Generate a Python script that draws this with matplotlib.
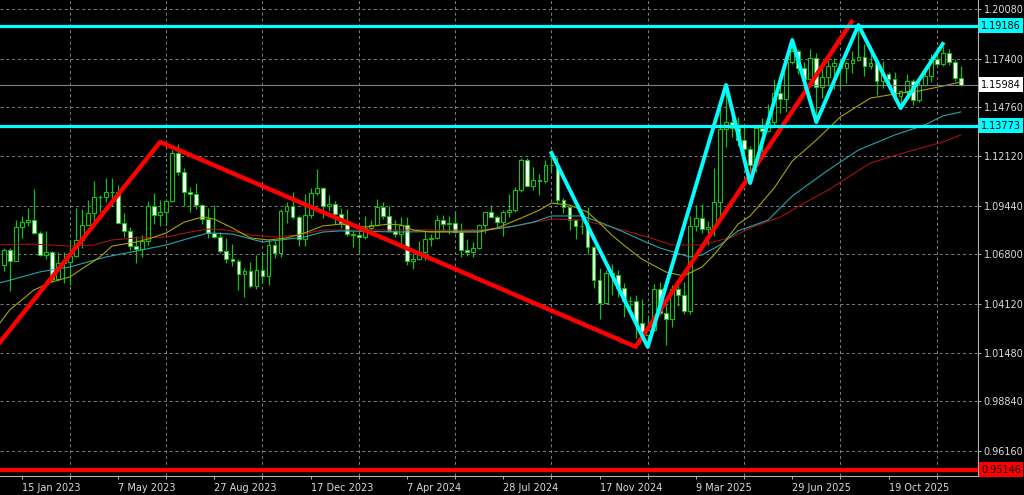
import numpy as np
import pandas as pd
import matplotlib
matplotlib.use("Agg")
import matplotlib.pyplot as plt
import matplotlib.dates as mdates

# Weekly candles, first bar = week starting 25 Dec 2022
FIRST_WEEK = "2022-12-25"

opens = [1.0622, 1.0705, 1.0645, 1.0830, 1.0856, 1.0868, 1.0796, 1.0679, 1.0694, 1.0547,
         1.0635, 1.0640, 1.0670, 1.0760, 1.0839, 1.0903, 1.0993, 1.0991, 1.1017, 1.1018,
         1.0850, 1.0805, 1.0723, 1.0708, 1.0750, 1.0940, 1.0893, 1.0910, 1.0968, 1.1228,
         1.1124, 1.1016, 1.1007, 1.0948, 1.0873, 1.0795, 1.0775, 1.0700, 1.0657, 1.0645,
         1.0573, 1.0588, 1.0511, 1.0594, 1.0564, 1.0729, 1.0685, 1.0915, 1.0940, 1.0885,
         1.0763, 1.0895, 1.1012, 1.1038, 1.0942, 1.0950, 1.0897, 1.0852, 1.0789, 1.0784,
         1.0776, 1.0821, 1.0838, 1.0939, 1.0890, 1.0808, 1.0790, 1.0838, 1.0642, 1.0655,
         1.0693, 1.0761, 1.0771, 1.0868, 1.0847, 1.0848, 1.0801, 1.0703, 1.0693, 1.0713,
         1.0839, 1.0907, 1.0883, 1.0855, 1.0911, 1.0919, 1.1027, 1.1191, 1.1048, 1.1085,
         1.1076, 1.1163, 1.1164, 1.0974, 1.0937, 1.0866, 1.0831, 1.0833, 1.0719, 1.0541,
         1.0418, 1.0577, 1.0567, 1.0500, 1.0429, 1.0427, 1.0307, 1.0244, 1.0271, 1.0494,
         1.0362, 1.0329, 1.0493, 1.0459, 1.0376, 1.0833, 1.0879, 1.0815, 1.0827, 1.0962,
         1.1357, 1.1394, 1.1366, 1.1299, 1.1250, 1.1163, 1.1364, 1.1347, 1.1397, 1.1551,
         1.1523, 1.1719, 1.1779, 1.1689, 1.1627, 1.1742, 1.1586, 1.1642, 1.1700, 1.1718,
         1.1686, 1.1718, 1.1733, 1.1746, 1.1702, 1.1716, 1.1620, 1.1654, 1.1627, 1.1535,
         1.1565, 1.1620, 1.1513, 1.1598, 1.1643, 1.1740, 1.1710, 1.1772, 1.1720, 1.1636]
highs = [1.0713, 1.0713, 1.0868, 1.0888, 1.0929, 1.1033, 1.0805, 1.0805, 1.0700, 1.0692,
         1.0695, 1.0760, 1.0930, 1.0925, 1.0973, 1.1075, 1.0999, 1.1095, 1.1092, 1.1055,
         1.0904, 1.0828, 1.0780, 1.0787, 1.0971, 1.1012, 1.0976, 1.0975, 1.1244, 1.1276,
         1.1149, 1.1046, 1.1065, 1.0955, 1.0930, 1.0945, 1.0800, 1.0770, 1.0737, 1.0656,
         1.0608, 1.0640, 1.0676, 1.0695, 1.0756, 1.0755, 1.0925, 1.0965, 1.1017, 1.0894,
         1.1009, 1.1040, 1.1140, 1.1046, 1.0999, 1.0967, 1.0932, 1.0926, 1.0805, 1.0806,
         1.0888, 1.0865, 1.0981, 1.0964, 1.0942, 1.0865, 1.0885, 1.0885, 1.0690, 1.0752,
         1.0811, 1.0791, 1.0895, 1.0895, 1.0889, 1.0916, 1.0852, 1.0761, 1.0748, 1.0845,
         1.0912, 1.0948, 1.0895, 1.0922, 1.1008, 1.1047, 1.1202, 1.1201, 1.1155, 1.1113,
         1.1189, 1.1214, 1.1209, 1.0985, 1.0945, 1.0870, 1.0905, 1.0937, 1.0727, 1.0609,
         1.0597, 1.0630, 1.0595, 1.0527, 1.0457, 1.0458, 1.0437, 1.0353, 1.0522, 1.0533,
         1.0443, 1.0513, 1.0528, 1.0528, 1.0889, 1.0947, 1.0955, 1.0858, 1.1146, 1.1474,
         1.1573, 1.1480, 1.1425, 1.1380, 1.1266, 1.1375, 1.1420, 1.1495, 1.1631, 1.1614,
         1.1753, 1.1830, 1.1790, 1.1720, 1.1789, 1.1770, 1.1699, 1.1730, 1.1742, 1.1743,
         1.1726, 1.1780, 1.1918, 1.1819, 1.1779, 1.1729, 1.1728, 1.1669, 1.1668, 1.1570,
         1.1656, 1.1627, 1.1612, 1.1682, 1.1763, 1.1804, 1.1808, 1.1790, 1.1740, 1.1700]
lows = [1.0590, 1.0483, 1.0643, 1.0766, 1.0835, 1.0790, 1.0669, 1.0655, 1.0533, 1.0534,
        1.0524, 1.0516, 1.0664, 1.0713, 1.0837, 1.0831, 1.0910, 1.0964, 1.0942, 1.0848,
        1.0774, 1.0702, 1.0635, 1.0667, 1.0731, 1.0844, 1.0835, 1.0834, 1.0962, 1.1110,
        1.0943, 1.0912, 1.0925, 1.0845, 1.0766, 1.0771, 1.0686, 1.0631, 1.0615, 1.0488,
        1.0448, 1.0496, 1.0495, 1.0524, 1.0516, 1.0659, 1.0668, 1.0852, 1.0870, 1.0723,
        1.0723, 1.0875, 1.1000, 1.0877, 1.0914, 1.0845, 1.0821, 1.0778, 1.0722, 1.0695,
        1.0762, 1.0796, 1.0835, 1.0873, 1.0801, 1.0776, 1.0725, 1.0622, 1.0601, 1.0650,
        1.0650, 1.0724, 1.0764, 1.0804, 1.0788, 1.0795, 1.0668, 1.0671, 1.0666, 1.0710,
        1.0796, 1.0878, 1.0825, 1.0777, 1.0881, 1.0912, 1.1020, 1.1042, 1.1026, 1.1001,
        1.1068, 1.1118, 1.0950, 1.0902, 1.0811, 1.0761, 1.0790, 1.0682, 1.0497, 1.0333,
        1.0412, 1.0460, 1.0451, 1.0343, 1.0385, 1.0226, 1.0214, 1.0178, 1.0266, 1.0353,
        1.0190, 1.0285, 1.0401, 1.0359, 1.0360, 1.0806, 1.0797, 1.0733, 1.0777, 1.0881,
        1.1263, 1.1315, 1.1265, 1.1194, 1.1065, 1.1128, 1.1210, 1.1345, 1.1373, 1.1445,
        1.1452, 1.1712, 1.1654, 1.1556, 1.1620, 1.1391, 1.1528, 1.1589, 1.1573, 1.1574,
        1.1609, 1.1660, 1.1724, 1.1646, 1.1684, 1.1542, 1.1578, 1.1575, 1.1525, 1.1468,
        1.1540, 1.1491, 1.1502, 1.1590, 1.1615, 1.1700, 1.1700, 1.1705, 1.1620, 1.1590]
closes = opens[1:] + [1.15984]

# moving averages: bar offset from first week, price
ma_fast_bar = [-1, 0, 1, 5, 8, 11, 14, 16, 18, 22, 24, 27, 30, 33, 35, 38, 41, 44, 47, 50,
               53, 56, 60, 64, 66, 68, 71, 75, 79, 82, 86, 89, 91, 94, 97, 99, 101, 103,
               106, 110, 113, 116, 118, 120, 122, 124, 128, 131, 135, 139, 144, 149, 152,
               156, 159]
ma_fast = [1.0293, 1.0336, 1.0379, 1.0487, 1.0531, 1.0558, 1.0623, 1.0666, 1.0725, 1.0747,
           1.0763, 1.0796, 1.0855, 1.0882, 1.0871, 1.0823, 1.0769, 1.0758, 1.0769, 1.0796,
           1.0834, 1.0844, 1.0828, 1.0844, 1.0839, 1.0812, 1.0801, 1.0801, 1.0801, 1.0823,
           1.0877, 1.0920, 1.0958, 1.0947, 1.0909, 1.0850, 1.0785, 1.0731, 1.0655, 1.0585,
           1.0563, 1.0612, 1.0677, 1.0758, 1.0844, 1.0888, 1.1039, 1.1185, 1.1299, 1.1424,
           1.1526, 1.1553, 1.1564, 1.1591, 1.1613]
ma_mid_bar = [-1, 0, 3, 6, 11, 14, 17, 22, 27, 31, 34, 38, 43, 46, 50, 53, 56, 66, 79, 84,
              88, 91, 96, 99, 103, 107, 109, 114, 116, 119, 122, 127, 131, 137, 142, 148,
              153, 156, 159]
ma_mid = [1.0525, 1.0531, 1.0558, 1.0585, 1.0612, 1.0639, 1.0666, 1.0698, 1.0731, 1.0769,
          1.0796, 1.0790, 1.0747, 1.0758, 1.0774, 1.0801, 1.0807, 1.0801, 1.0807, 1.0828,
          1.0855, 1.0888, 1.0888, 1.0855, 1.0801, 1.0742, 1.0715, 1.0666, 1.0677, 1.0731,
          1.0807, 1.0866, 1.0996, 1.1137, 1.1245, 1.1326, 1.1380, 1.1429, 1.1451]
ma_slow_bar = [-1, 5, 11, 15, 18, 22, 27, 31, 34, 37, 41, 45, 49, 53, 69, 79, 85, 91, 96,
               101, 107, 111, 116, 121, 124, 129, 133, 137, 144, 150, 156, 159]
ma_slow = [1.0731, 1.0736, 1.0725, 1.0731, 1.0758, 1.0769, 1.0774, 1.0801, 1.0817, 1.0812,
           1.0785, 1.0774, 1.0785, 1.0812, 1.0812, 1.0812, 1.0834, 1.0871, 1.0866, 1.0828,
           1.0774, 1.0731, 1.0731, 1.0774, 1.0823, 1.0882, 1.0958, 1.1029, 1.1175, 1.1234,
           1.1288, 1.1326]

# zigzag / trend lines
zz_red_dates = ["2022-12-18", "2023-06-25", "2024-12-29", "2025-09-06"]
zz_red_price = [1.0189, 1.1288, 1.0180, 1.1938]
zz_cyan_dates = ["2024-09-22", "2025-01-12", "2025-04-13", "2025-05-11", "2025-06-29",
                 "2025-07-27", "2025-09-14", "2025-11-02", "2025-12-21"]
zz_cyan_price = [1.1229, 1.0179, 1.1597, 1.1066, 1.1840, 1.1396, 1.1921, 1.1472, 1.1819]

levels_cyan = [1.19186, 1.13773]
level_red = 0.95146
last_price = 1.15984

price_ticks = [0.96160, 0.98840, 1.01480, 1.04120, 1.06800, 1.09440, 1.12120, 1.14760,
               1.17400, 1.20080]
date_ticks = ["2023-01-15", "2023-05-07", "2023-08-27", "2023-12-17", "2024-04-07",
              "2024-07-28", "2024-11-17", "2025-03-09", "2025-06-29", "2025-10-19"]

GREEN = "#14c014"
GRID = "#7c8088"
TXT = "#dcdcdc"
FS = 7

plt.rcParams["font.family"] = ["DejaVu Sans"]

o = np.array(opens); h = np.array(highs); l = np.array(lows); c = np.array(closes)
t0 = mdates.date2num(pd.Timestamp(FIRST_WEEK))
x = t0 + 7.0 * np.arange(len(o))

fig = plt.figure(figsize=(10.24, 4.95), dpi=100, facecolor="black")
ax = fig.add_axes([0, 19 / 495, 978 / 1024, 476 / 495], facecolor="black")

# candles
ax.vlines(x, l, h, color=GREEN, lw=0.9, zorder=2)
up = c >= o
ax.bar(x, np.abs(c - o), bottom=np.minimum(o, c), width=4.4,
       color=np.where(up, "black", "white"), edgecolor=GREEN, linewidth=0.8, zorder=3)

# moving averages
ax.plot(t0 + 7.0 * np.array(ma_slow_bar), ma_slow, color="#a81010", lw=0.8, zorder=4)
ax.plot(t0 + 7.0 * np.array(ma_mid_bar), ma_mid, color="#22a6ae", lw=0.8, zorder=4)
ax.plot(t0 + 7.0 * np.array(ma_fast_bar), ma_fast, color="#a8a400", lw=0.8, zorder=4)

# zigzags
ax.plot(mdates.date2num(pd.to_datetime(zz_red_dates)), zz_red_price,
        color="#ff0000", lw=3.2, zorder=5)
ax.plot(mdates.date2num(pd.to_datetime(zz_cyan_dates)), zz_cyan_price,
        color="#00ffff", lw=2.8, zorder=6)

# horizontal levels
ax.axhline(last_price, color="#808080", lw=0.8, zorder=4)
for lv in levels_cyan:
    ax.axhline(lv, color="#00ffff", lw=2.3, zorder=6)
ax.axhline(level_red, color="#ff0000", lw=3.0, zorder=6)

ax.set_xlim(t0 - 4.23, t0 + 1133.0)
ax.set_ylim(0.94807, 1.20567)

# axes styling
for s in ["left", "top"]:
    ax.spines[s].set_visible(False)
for s in ["right", "bottom"]:
    ax.spines[s].set_color("#b0b0b0")
    ax.spines[s].set_linewidth(0.8)

ax.yaxis.tick_right()
ax.set_yticks(price_ticks)
ax.set_yticklabels([f"{v:.5f}" for v in price_ticks])
ax.tick_params(axis="y", which="major", direction="out", length=2.5, width=0.7,
               color="#b0b0b0", labelcolor=TXT, labelsize=FS, pad=1.5)

grid_dates = pd.date_range(date_ticks[0], periods=20, freq="56D")
lbl_dates = pd.to_datetime(date_ticks)
ax.set_xticks(mdates.date2num(lbl_dates))
ax.set_xticklabels([f"{d.day} {d:%b %Y}" for d in lbl_dates])
ax.set_xticks(mdates.date2num(grid_dates), minor=True)
ax.tick_params(axis="x", which="both", direction="out", length=2.5, width=0.7,
               color="#b0b0b0", labelcolor=TXT, labelsize=FS, pad=2.5)
for lab in ax.get_xticklabels():
    lab.set_horizontalalignment("left")

ax.grid(axis="y", which="major", color=GRID, lw=0.7, ls=(0, (3, 3)))
ax.grid(axis="x", which="minor", color=GRID, lw=0.7, ls=(0, (3, 3)))
ax.set_axisbelow(True)

# price label boxes on the right scale
boxes = [(levels_cyan[0], "#00ffff", "black"), (last_price, "white", "black"),
         (levels_cyan[1], "#00ffff", "black"), (level_red, "#ff0000", "black")]
for lv, fc, tc in boxes:
    ax.annotate(f"{lv:.5f}", xy=(1, lv), xycoords=("axes fraction", "data"),
                xytext=(2.2, 0), textcoords="offset points", va="center", ha="left",
                fontsize=FS, color=tc, annotation_clip=False, zorder=10,
                bbox=dict(boxstyle="square,pad=0.25", fc=fc, ec="none"))

fig.savefig("out.png", dpi=100, facecolor="black")
